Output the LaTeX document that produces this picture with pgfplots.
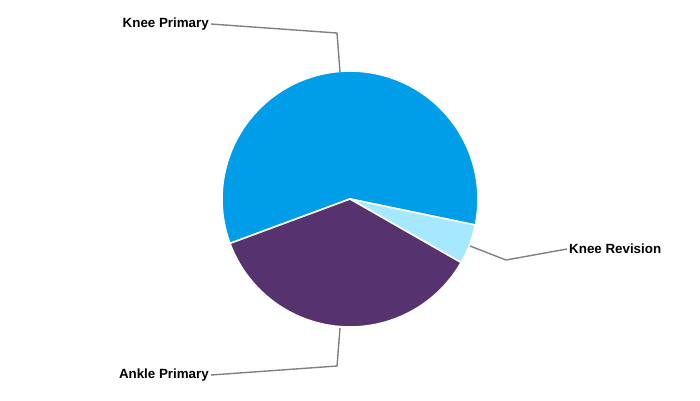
\documentclass[border=0pt]{standalone}
\usepackage{fontspec}
\setmainfont{Liberation Sans}
\usepackage{pgfplots}
\pgfplotsset{compat=1.18}
\definecolor{kp}{RGB}{0,158,232}
\definecolor{kr}{RGB}{166,232,255}
\definecolor{ap}{RGB}{86,51,110}
\definecolor{lead}{RGB}{128,128,128}
% slice values (percent)
\def\vKP{58.9}
\def\vKR{5.0}
\def\vAP{36.1}
\def\startang{200.3}
\pgfmathsetmacro\aA{\startang-3.6*\vKP}
\pgfmathsetmacro\aB{\aA-3.6*\vKR}
\pgfmathsetmacro\aC{\aB-3.6*\vAP}
\newcommand\lbl{\bfseries\fontsize{13.4}{15}\selectfont}
\begin{document}
\begin{tikzpicture}
\begin{axis}[
  scale only axis, width=700bp, height=400bp,
  xmin=0, xmax=700, ymin=0, ymax=400, y dir=reverse,
  hide axis, clip=false,
]
% slices
\addplot[fill=kp, draw=white, line width=1.6pt, line join=round, domain=\aA:\startang, samples=120, variable=\t]
  ({350+128*cos(t)},{199-128*sin(t)}) -- (axis cs:350,199) -- cycle;
\addplot[fill=kr, draw=white, line width=1.6pt, line join=round, domain=\aB:\aA, samples=20, variable=\t]
  ({350+128*cos(t)},{199-128*sin(t)}) -- (axis cs:350,199) -- cycle;
\addplot[fill=ap, draw=white, line width=1.6pt, line join=round, domain=\aC:\aB, samples=90, variable=\t]
  ({350+128*cos(t)},{199-128*sin(t)}) -- (axis cs:350,199) -- cycle;
% leader lines
\addplot[lead, line width=1.4pt] coordinates {(340,72) (337,33) (211,24)};
\addplot[lead, line width=1.4pt] coordinates {(470,246) (506,260) (567,249)};
\addplot[lead, line width=1.4pt] coordinates {(340,328) (337,366) (211,375)};
% labels
\node[anchor=east, inner sep=1pt, font=\lbl] at (axis cs:210,24) {Knee Primary};
\node[anchor=west, inner sep=1pt, font=\lbl] at (axis cs:568,249) {Knee Revision};
\node[anchor=east, inner sep=1pt, font=\lbl] at (axis cs:210,375) {Ankle Primary};
\end{axis}
\pgfresetboundingbox
\path[use as bounding box] (current axis.south west) rectangle (current axis.north east);
\end{tikzpicture}
\end{document}
